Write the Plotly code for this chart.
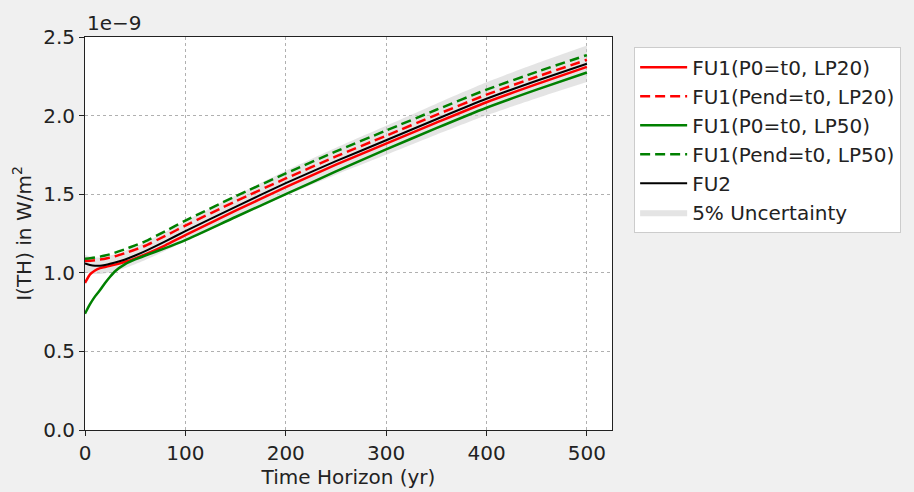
import plotly.graph_objects as go

# Time horizon (yr)
years = [0, 5, 10, 15, 20, 25, 30, 40, 50, 60, 80, 100, 150, 200, 250, 300, 350, 400, 450, 500]

# Values in units of 1e-9 W/m^2
fu1_p0_lp20 = [0.935, 0.99, 1.015, 1.03, 1.037, 1.045, 1.052, 1.07, 1.092, 1.117, 1.175, 1.24,
               1.395, 1.545, 1.688, 1.822, 1.955, 2.085, 2.2, 2.31]
fu1_pend_lp20 = [1.075, 1.077, 1.08, 1.085, 1.09, 1.097, 1.105, 1.125, 1.147, 1.172, 1.235, 1.30,
                 1.455, 1.60, 1.74, 1.872, 2.005, 2.133, 2.247, 2.355]
fu1_p0_lp50 = [0.74, 0.80, 0.85, 0.89, 0.935, 0.975, 1.01, 1.055, 1.085, 1.11, 1.157, 1.208,
               1.355, 1.50, 1.645, 1.785, 1.92, 2.05, 2.165, 2.274]
fu1_pend_lp50 = [1.09, 1.093, 1.097, 1.103, 1.11, 1.118, 1.128, 1.15, 1.175, 1.20, 1.265, 1.332,
                 1.487, 1.632, 1.772, 1.905, 2.037, 2.165, 2.278, 2.385]
fu2 = [1.06, 1.05, 1.045, 1.045, 1.05, 1.057, 1.065, 1.085, 1.11, 1.138, 1.20, 1.265,
       1.42, 1.57, 1.71, 1.843, 1.977, 2.107, 2.222, 2.33]
uncertainty = 0.05

x_ticks = [0, 100, 200, 300, 400, 500]
y_ticks = [0.0, 0.5, 1.0, 1.5, 2.0, 2.5]

band_upper = [v * (1 + uncertainty) for v in fu2]
band_lower = [v * (1 - uncertainty) for v in fu2]

FONT = "DejaVu Sans"
FS = 20
TXT = "#222222"
fig = go.Figure()

fig.add_trace(go.Scatter(x=years, y=band_lower, mode="lines",
                         line=dict(width=0, shape="spline", smoothing=0.6),
                         showlegend=False, hoverinfo="skip"))
fig.add_trace(go.Scatter(x=years, y=band_upper, mode="lines",
                         line=dict(width=0, shape="spline", smoothing=0.6),
                         fill="tonexty", fillcolor="rgba(205,205,205,0.55)",
                         name="5% Uncertainty", legendrank=1006))

series = [
    ("FU1(P0=t0, LP20)", fu1_p0_lp20, "#ff0000", "solid", 2.5),
    ("FU1(Pend=t0, LP20)", fu1_pend_lp20, "#ff0000", "10px,5px", 2.5),
    ("FU1(P0=t0, LP50)", fu1_p0_lp50, "#008000", "solid", 2.5),
    ("FU1(Pend=t0, LP50)", fu1_pend_lp50, "#008000", "10px,5px", 2.5),
    ("FU2", fu2, "#000000", "solid", 2),
]
for i, (name, vals, color, dash, w) in enumerate(series):
    fig.add_trace(go.Scatter(x=years, y=vals, mode="lines", name=name,
                             line=dict(color=color, dash=dash, width=w, shape="spline", smoothing=0.6),
                             legendrank=1000 + i))

axis_common = dict(showline=True, linecolor=TXT, linewidth=1, mirror=True,
                   ticks="outside", ticklen=5, tickcolor=TXT,
                   showgrid=True, gridcolor="#b0b0b0", griddash="dot", gridwidth=1,
                   zeroline=False, tickfont=dict(family=FONT, size=FS, color=TXT))

fig.update_xaxes(range=[0, 525], tickvals=x_ticks,
                 title=dict(text="Time Horizon (yr)", font=dict(family=FONT, size=FS, color=TXT),
                            standoff=2),
                 **axis_common)
fig.update_yaxes(range=[0, 2.5], tickvals=y_ticks, tickformat=".1f",
                 title=dict(text="I(TH) in W/m<sup>2</sup>", font=dict(family=FONT, size=FS, color=TXT),
                            standoff=6),
                 **axis_common)

fig.add_annotation(text="1e\u22129", xref="paper", yref="paper", x=0, y=1.0,
                   xanchor="left", yanchor="bottom", showarrow=False,
                   font=dict(family=FONT, size=FS, color=TXT))

fig.update_layout(
    width=914, height=492,
    margin=dict(l=85, r=302, t=37, b=62, autoexpand=False),
    paper_bgcolor="#f0f0f0", plot_bgcolor="white",
    font=dict(family=FONT, size=FS, color=TXT),
    legend=dict(x=1.042, y=0.975, xanchor="left", yanchor="top",
                traceorder="normal", itemwidth=47,
                bgcolor="white", bordercolor="#cccccc", borderwidth=1,
                font=dict(family=FONT, size=FS, color=TXT),
                tracegroupgap=0),
)

fig.write_html("out.html")
